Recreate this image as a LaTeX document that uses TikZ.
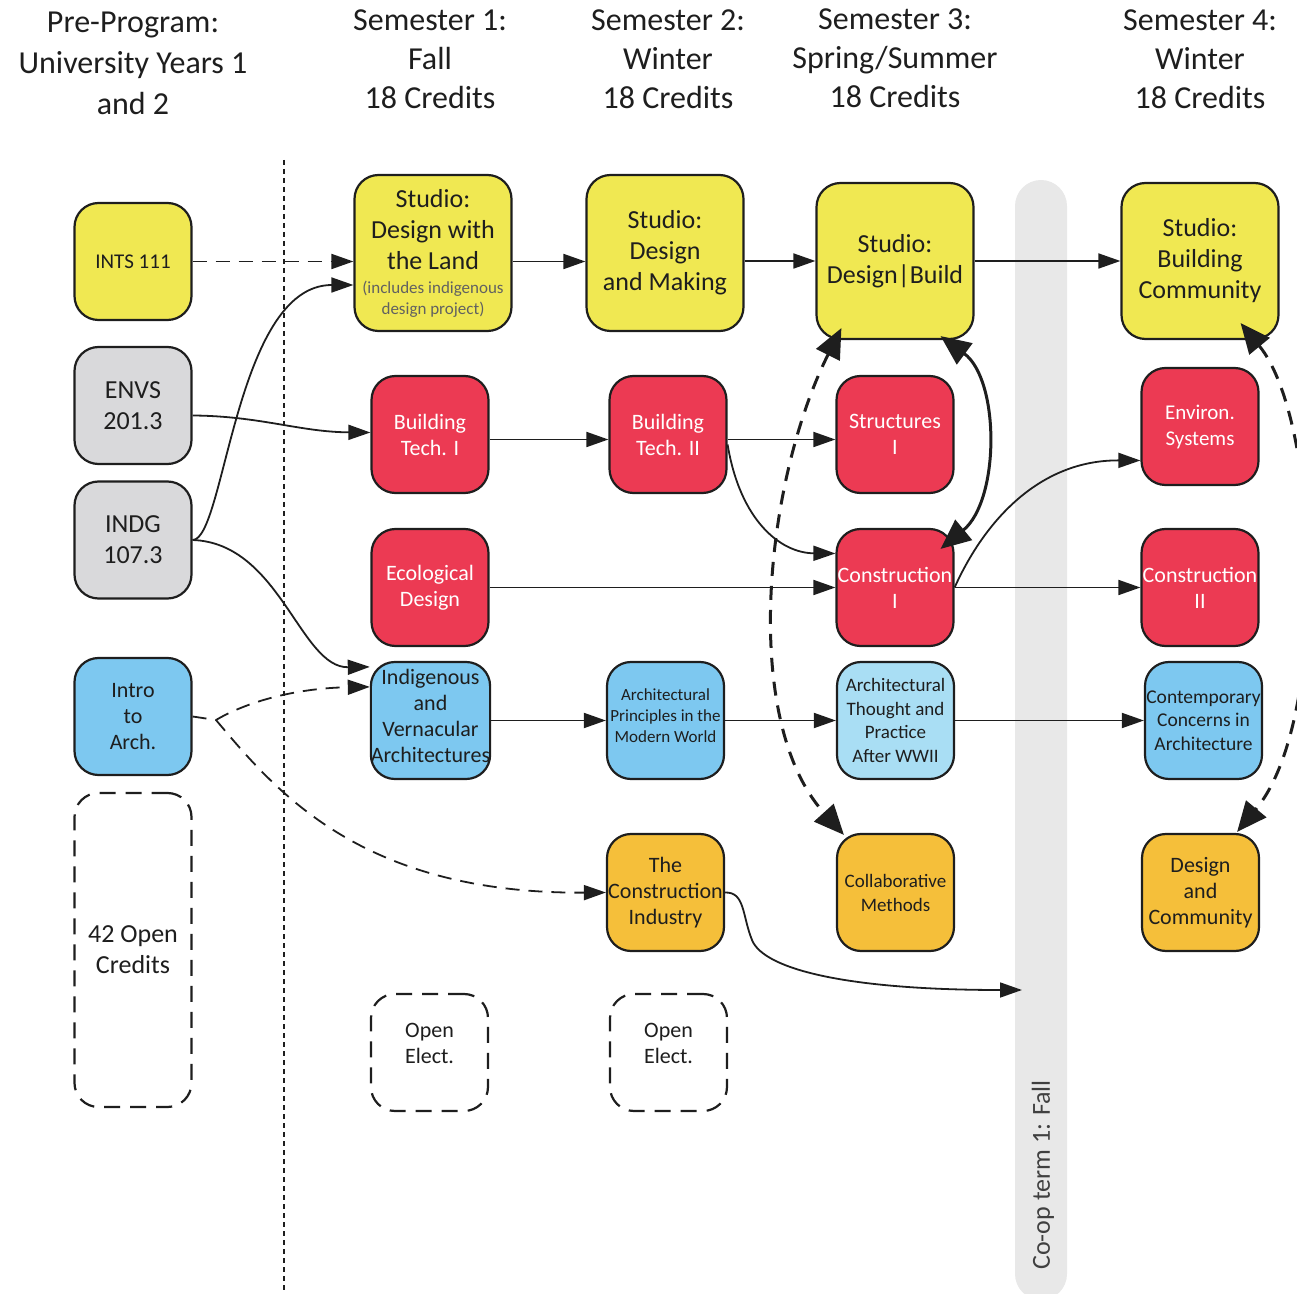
\documentclass[tikz,border=0pt]{standalone}
\usepackage{fontspec}
\setmainfont{Carlito}
\usepackage{xcolor}
\usetikzlibrary{arrows.meta, positioning, calc}
\definecolor{studio}{HTML}{F0E852}
\definecolor{tech}{HTML}{EC3A53}
\definecolor{prereq}{HTML}{D9D9DB}
\definecolor{history}{HTML}{7DC8F0}
\definecolor{historylt}{HTML}{A9DEF4}
\definecolor{practice}{HTML}{F5BF3A}
\definecolor{coopfill}{HTML}{E8E8E8}
\definecolor{ink}{HTML}{1E1E1E}
\newcommand{\smallnote}{\fontsize{8.5}{10.5}\selectfont\color{ink!70}}
\tikzset{
  box/.style    ={draw=ink, line width=1.1pt, rounded corners=12pt,
                  minimum width=58.5pt, minimum height=58.5pt, align=center,
                  inner sep=0pt, text=ink, font=\fontsize{11}{13}\selectfont},
  boxy/.style   ={box, fill=studio, minimum width=78.5pt, minimum height=78pt,
                  font=\fontsize{13}{15.5}\selectfont},
  boxr/.style   ={box, fill=tech, text=white},
  boxg/.style   ={box, fill=prereq, font=\fontsize{13}{15.5}\selectfont},
  boxb/.style   ={box, fill=history},
  boxlb/.style  ={box, fill=historylt},
  boxo/.style   ={box, fill=practice},
  boxopen/.style={box, fill=white, dash pattern=on 8pt off 5pt},
  coopbar/.style={fill=coopfill, rounded corners=13pt, minimum width=26pt,
                  minimum height=560pt, inner sep=0pt},
  flow/.style   ={-{Triangle[length=11pt,width=7.5pt]}, line width=0.9pt, draw=ink},
  flowd/.style  ={flow, dash pattern=on 7pt off 4.5pt},
  flowbig/.style={{Triangle[length=15pt,width=13pt]}-{Triangle[length=15pt,width=13pt]},
                  line width=1.5pt, draw=ink},
  flowbigd/.style={flowbig, dash pattern=on 7pt off 5pt},
  divider/.style={draw=ink, line width=0.8pt, dash pattern=on 2.5pt off 2pt},
  head/.style   ={align=center, font=\fontsize{16}{19.5}\selectfont, text=ink}
}

\begin{document}
\begin{tikzpicture}[x=0.5pt, y=-0.5pt]
  \useasboundingbox (0,0) rectangle (1297,1294);
  \clip (0,0) rectangle (1297,1294);

  % headings
  \node[head, font=\fontsize{16}{20.5}\selectfont] (hpre) at (133,63)
       {Pre-Program:\\University Years 1\\and 2};
  \node[head] (hsemA) at (430,59)  {Semester 1:\\Fall\\18 Credits};
  \node[head] (hsemB) at (668,59)  {Semester 2:\\Winter\\18 Credits};
  \node[head] (hsemC) at (895,58)  {Semester 3:\\Spring/Summer\\18 Credits};
  \node[head] (hsemD) at (1200,59) {Semester 4:\\Winter\\18 Credits};

  \draw[divider] (284,160) -- (284,1294);

  % co-op term
  \node[coopbar] (coop) at (1041,740) {};
  \node[rotate=90, font=\fontsize{13}{15.5}\selectfont, text=ink!85] (coopnote)
       at (1043,1175) {Co-op term 1: Fall};
  \coordinate (coopin) at (1022,990);

  % pre-program
  \node[box, fill=studio, font=\fontsize{10.5}{13}\selectfont] (ints) at (133,261.5) {INTS 111};
  \node[boxg] (envs)  at (133,405.5) {ENVS\\201.3};
  \node[boxg] (indg)  at (133,540)   {INDG\\107.3};
  \node[boxb] (intro) at (133,716.5) {Intro\\to\\Arch.};
  \node[boxopen, minimum height=157pt, font=\fontsize{13}{15.5}\selectfont]
       (openpre) at (133,950) {42 Open\\Credits};

  % studios
  \node[boxy] (studioA) at (433,253)
       {Studio:\\Design with\\the Land\\[-3.5pt]{\smallnote (includes indigenous}\\[-5pt]{\smallnote design project)}};
  \node[boxy] (studioB) at (665,253)  {Studio:\\Design\\and Making};
  \node[boxy] (studioC) at (895,261)  {Studio:\\Design|Build};
  \node[boxy] (studioD) at (1200,261) {Studio:\\Building\\Community};

  % technology
  \node[boxr] (btA)    at (430,434.5)  {Building\\Tech. I};
  \node[boxr] (btB)    at (668,434.5)  {Building\\Tech. II};
  \node[boxr] (struct) at (895,434.5)  {Structures\\I};
  \node[boxr, font=\fontsize{10.5}{13}\selectfont] (env) at (1200,426.5) {Environ.\\Systems};
  \node[boxr] (eco)    at (430,587.5)  {Ecological\\Design};
  \node[boxr] (consA)  at (895,587.5)  {Construction\\I};
  \node[boxr] (consB)  at (1200,587.5) {Construction\\II};

  % history and theory
  \node[boxb, text depth=5pt] (indig) at (430.5,720.5)
       {Indigenous\\and\\Vernacular\\Architectures};
  \node[boxb, text depth=5pt, font=\fontsize{8.5}{10.5}\selectfont] (princ) at (665.5,720.5)
       {Architectural\\Principles in the\\Modern World};
  \node[boxlb, font=\fontsize{9.5}{11.7}\selectfont] (thought) at (895.5,720.5)
       {Architectural\\Thought and\\Practice\\After WWII};
  \node[boxb, font=\fontsize{9.75}{11.7}\selectfont] (contemp) at (1203.5,720.5)
       {Contemporary\\Concerns in\\Architecture};

  % practice
  \node[boxo] (industry) at (665.5,892.5) {The\\Construction\\Industry};
  \node[boxo, font=\fontsize{9.5}{12}\selectfont] (collab) at (895.5,892.5)
       {Collaborative\\Methods};
  \node[boxo] (descomm) at (1200.5,892.5) {Design\\and\\Community};

  % electives
  \node[boxopen, text depth=9pt] (electA) at (429.5,1052.5) {Open\\Elect.};
  \node[boxopen, text depth=9pt] (electB) at (668.5,1052.5) {Open\\Elect.};

  % studio sequence
  \draw[flowd] (ints.east) -- (studioA.west |- ints.east);
  \draw[flow] (studioA.east |- ints.east) -- (studioB.west |- ints.east);
  \draw[flow] (studioB.east |- studioC.west) -- (studioC.west);
  \draw[flow] (studioC.east) -- (studioD.west);

  % prerequisites
  \draw[flow] (indg.east) .. controls (225,540) and (235,285) .. ([yshift=-16pt]studioA.west);
  \draw[flow] (indg.east) .. controls (280,543) and (300,668) .. ([yshift=-3pt]indig.north west);
  \draw[flow] ([yshift=-5pt]envs.east) .. controls (260,416) and (300,432) .. ([yshift=1pt]btA.west);

  \coordinate (fork) at (216,720);
  \draw[flowd, -] (intro.east) -- (fork);
  \draw[flowd] (fork) .. controls (250,700) and (300,688) .. ([yshift=-13pt]indig.north west);
  \draw[flowd] (fork) .. controls (275,790) and (360,894) .. (industry.west);

  % technology sequence
  \draw[flow] ([yshift=-2.5pt]btA.east) -- ([yshift=-2.5pt]btB.west);
  \draw[flow] ([yshift=-2.5pt]btB.east) -- ([yshift=-2.5pt]struct.west);
  \draw[flow] ([yshift=-5pt]btB.east) .. controls (740,520) and (780,553) .. ([yshift=17pt]consA.west);
  \draw[flow] (eco.east) -- (consA.west);
  \draw[flow] (consA.east) -- (consB.west);
  \draw[flow] (consA.east) .. controls (985,520) and (1040,460) .. ([yshift=-17pt]env.west);

  % history sequence
  \draw[flow] (indig.east) -- (princ.west);
  \draw[flow] (princ.east) -- (thought.west);
  \draw[flow] (thought.east) -- (contemp.west);

  % to co-op
  \draw[flow] (industry.east) .. controls (745,892) and (742,915) .. (752,940)
       .. controls (764,970) and (850,990) .. (coopin);

  % studio links
  \draw[flowbig] ($(studioC.south east)+(-34,-4)$) .. controls (1000,380) and (1000,500)
       .. ($(consA.north east)+(-14,21)$);
  \draw[flowbigd] ($(studioC.south west)+(26,-12)$) .. controls (765,480) and (740,720)
       .. ($(collab.north west)+(8,2)$);
  \draw[flowbigd] ($(studioD.south east)+(-39,-17)$) .. controls (1320,420) and (1330,720)
       .. ($(descomm.north east)+(-23,-1)$);

\end{tikzpicture}
\end{document}
